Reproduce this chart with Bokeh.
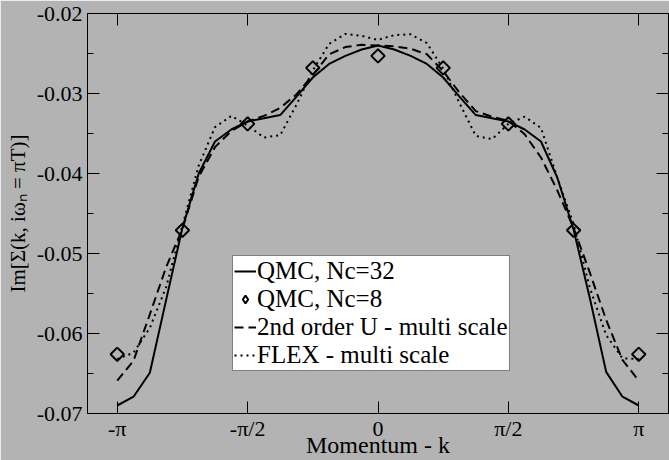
import numpy as np
from bokeh.plotting import figure
from bokeh.models import (LinearAxis, FixedTicker, CustomJSTickFormatter, PrintfTickFormatter,
                          Legend, LegendItem, Range1d)
from bokeh.embed import file_html
from bokeh.resources import INLINE

PI = np.pi

# momentum grid of the Nc=32 cluster: k = j*pi/16
k_index32 = list(range(-16, 17))
k32 = [j * PI / 16 for j in k_index32]

qmc32 = [-0.0690, -0.0679, -0.0649, -0.0558, -0.0468, -0.0400, -0.0360, -0.0345,
         -0.0335, -0.0331, -0.0327, -0.0304, -0.0280, -0.0263, -0.0253, -0.0245,
         -0.0240,
         -0.0245, -0.0253, -0.0263, -0.0280, -0.0304, -0.0327, -0.0331, -0.0335,
         -0.0345, -0.0360, -0.0405, -0.0470, -0.0556, -0.0648, -0.0679, -0.0690]

second_order = [-0.0659, -0.0634, -0.0576, -0.0517, -0.0469, -0.0404, -0.0367, -0.0347,
                -0.0335, -0.0328, -0.0318, -0.0301, -0.0277, -0.0251, -0.0242, -0.0239,
                -0.0240,
                -0.0241, -0.0244, -0.0251, -0.0272, -0.0299, -0.0322, -0.0329, -0.0334,
                -0.0351, -0.0380, -0.0421, -0.0468, -0.0524, -0.0583, -0.0633, -0.0659]

flex = [-0.0632, -0.0624, -0.0593, -0.0542, -0.0465, -0.0390, -0.0342, -0.0328,
        -0.0340, -0.0355, -0.0352, -0.0314, -0.0271, -0.0238, -0.02255, -0.0228,
        -0.0233,
        -0.0227, -0.0226, -0.0237, -0.0269, -0.0312, -0.0353, -0.0357, -0.0338,
        -0.0329, -0.0343, -0.0405, -0.0463, -0.0543, -0.0602, -0.0631, -0.0632]

# momentum grid of the Nc=8 cluster: k = j*pi/4
k_index8 = list(range(-4, 5))
k8 = [j * PI / 4 for j in k_index8]
qmc8 = [-0.0626, -0.0471, -0.0338, -0.0268, -0.0253, -0.0268, -0.0338, -0.0471, -0.0626]

x_ticks = [-PI, -PI / 2, 0.0, PI / 2, PI]
x_tick_labels = ["-π", "-π/2", "0", "π/2", "π"]
y_ticks = [-0.07, -0.06, -0.05, -0.04, -0.03, -0.02]
y_minor = [-0.065, -0.055, -0.045, -0.035, -0.025]

legend_labels = ["QMC, Nc=32", "QMC, Nc=8", "2nd order U - multi scale", "FLEX - multi scale"]
x_title = "Momentum - k"
y_title = "Im[Σ(k, iωₙ = πT)]"

FONT = "Liberation Serif"
BG = "#b3b3b3"

p = figure(width=669, height=460, x_range=Range1d(-3.5, 3.5), y_range=Range1d(-0.07, -0.02),
           output_backend="svg", toolbar_location=None,
           min_border_left=87, min_border_right=1, min_border_top=13, min_border_bottom=46,
           background_fill_color=BG, border_fill_color=BG, outline_line_color="black")
p.xgrid.visible = False
p.ygrid.visible = False

xfmt = CustomJSTickFormatter(args=dict(labels=x_tick_labels),
                             code="return labels[Math.round(tick * 2 / Math.PI) + 2];")


def style(ax, ticker, formatter, show_labels):
    ax.ticker = ticker
    ax.formatter = formatter
    ax.major_tick_in = 12
    ax.major_tick_out = 0
    ax.minor_tick_in = 6
    ax.minor_tick_out = 0
    ax.axis_line_color = "black"
    ax.major_tick_line_color = "black"
    ax.minor_tick_line_color = "black"
    ax.major_label_text_font = FONT
    ax.axis_label_text_font = FONT
    ax.axis_label_text_font_style = "normal"
    ax.axis_label_text_color = "black"
    if show_labels:
        ax.major_label_text_font_size = "22px"
        ax.major_label_text_color = "black"
        ax.major_label_standoff = 5
    else:
        ax.major_label_text_font_size = "0px"
        ax.major_label_text_color = None
        ax.major_label_standoff = 0


style(p.xaxis[0], FixedTicker(ticks=x_ticks, minor_ticks=[]), xfmt, True)
style(p.yaxis[0], FixedTicker(ticks=y_ticks, minor_ticks=y_minor), PrintfTickFormatter(format="%.2f"), True)
p.yaxis[0].axis_label = y_title
p.yaxis[0].axis_label_text_font_size = "21px"
p.yaxis[0].axis_label_standoff = 4
p.xaxis[0].axis_label = x_title
p.xaxis[0].axis_label_text_font_size = "24px"
p.xaxis[0].major_label_standoff = 2
p.xaxis[0].axis_label_standoff = -12   # tight spacing as in the original

top = LinearAxis()
style(top, FixedTicker(ticks=x_ticks, minor_ticks=[]), xfmt, False)
p.add_layout(top, "above")
right = LinearAxis()
style(right, FixedTicker(ticks=y_ticks, minor_ticks=y_minor), PrintfTickFormatter(format="%.2f"), False)
p.add_layout(right, "right")

r_qmc32 = p.line(k32, qmc32, line_color="black", line_width=2)
p.scatter(k8, qmc8, marker="square", angle=PI / 4, size=9.5, line_color="black",
          line_width=2, fill_alpha=0)
# legend key for the diamonds (legend glyphs ignore marker angle); size 0 so it adds nothing to the plot
r_qmc8_key = p.scatter(k8, qmc8, marker="diamond", size=0, line_color="black", line_width=2,
                       fill_alpha=0)
r_2nd = p.line(k32, second_order, line_color="black", line_width=2, line_dash="9 5")
r_flex = p.line(k32, flex, line_color="black", line_width=2, line_dash="2 4")

legend = Legend(items=[LegendItem(label=legend_labels[0], renderers=[r_qmc32]),
                       LegendItem(label=legend_labels[1], renderers=[r_qmc8_key]),
                       LegendItem(label=legend_labels[2], renderers=[r_2nd]),
                       LegendItem(label=legend_labels[3], renderers=[r_flex])],
                location=(145, 42), border_line_color="black", border_line_width=1,
                background_fill_color="white", background_fill_alpha=1.0,
                label_text_font=FONT, label_text_font_size="25px", label_text_color="black",
                glyph_width=22, glyph_height=20, label_height=20, label_standoff=1,
                padding=1, spacing=0, margin=0)
p.add_layout(legend)

open("out.html", "w").write(file_html(p, INLINE))
